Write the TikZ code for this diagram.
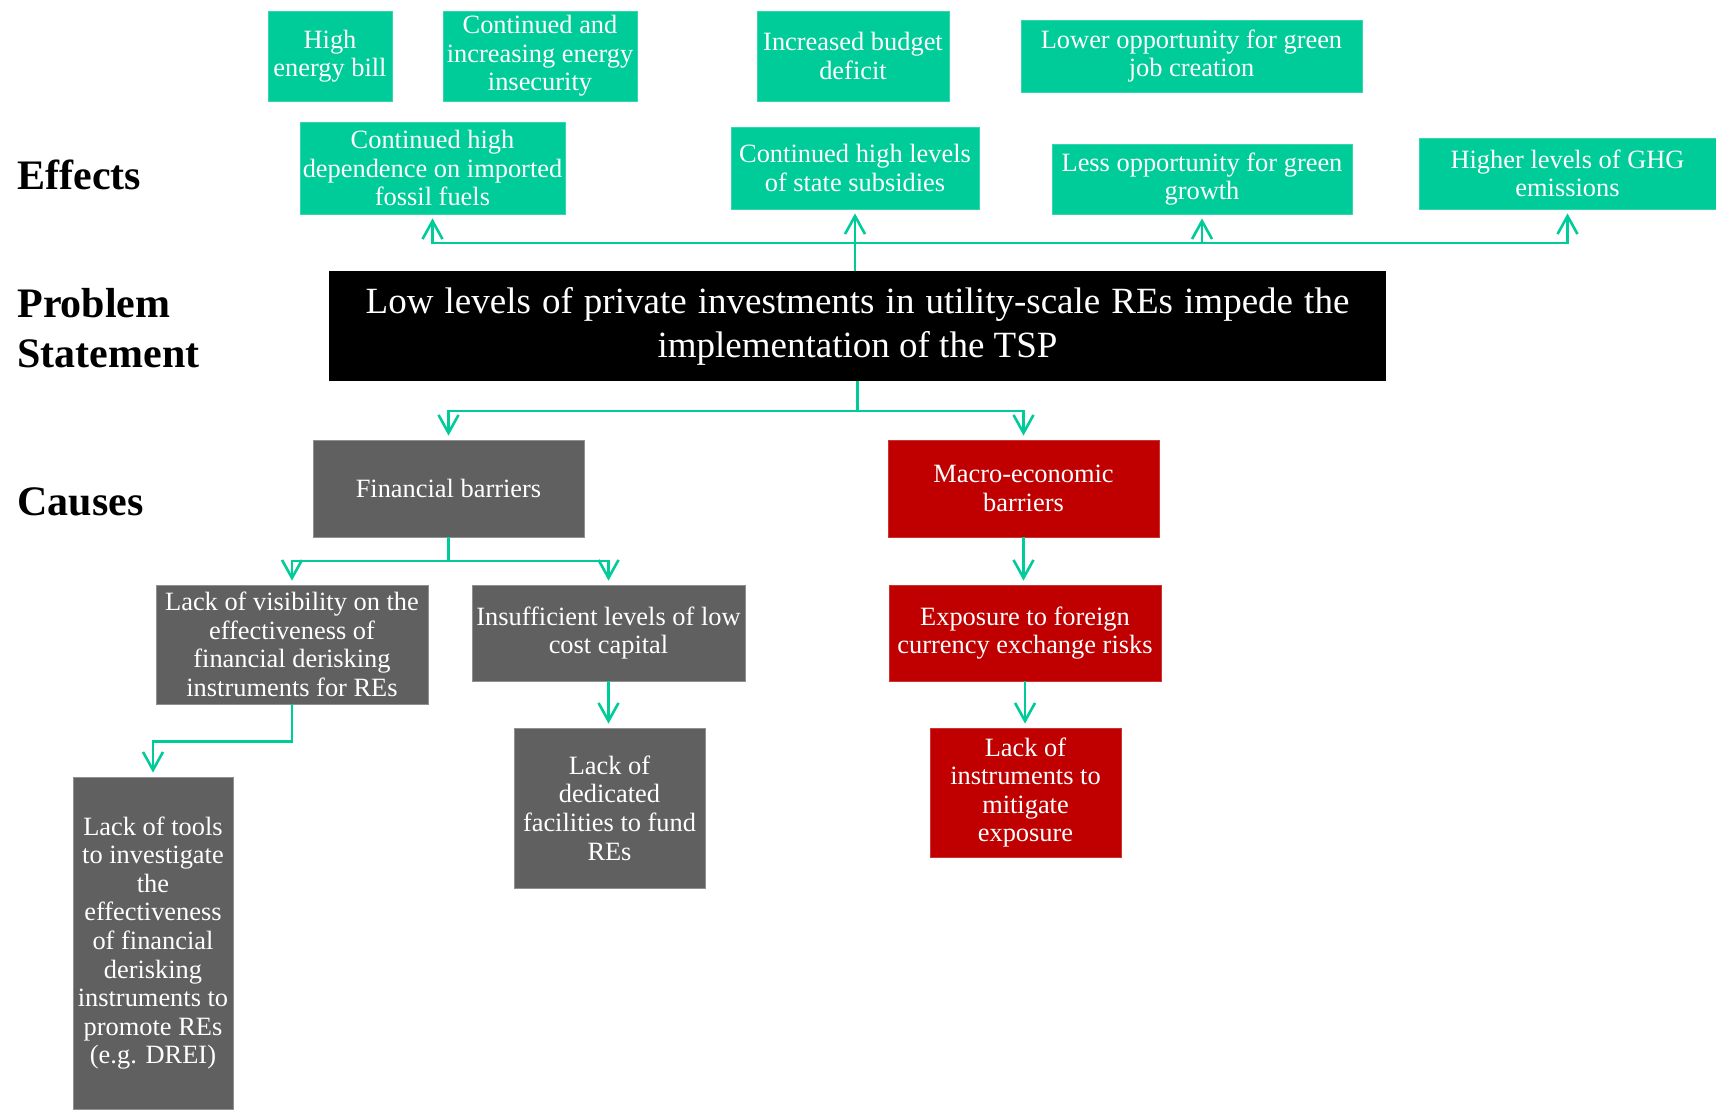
\documentclass[tikz,border=0pt]{standalone}
\usepackage{fontspec}
\setmainfont{Liberation Serif}
\usetikzlibrary{arrows.meta}
\definecolor{egreen}{RGB}{0,204,153}
\definecolor{egrey}{RGB}{96,96,96}
\definecolor{ered}{RGB}{192,0,0}
\tikzset{
  box/.style={rectangle, inner sep=1pt, align=center, text=white,
    font=\fontsize{13.2}{14.3}\selectfont},
  gbox/.style={box, fill=egreen, draw=egreen!80!white, line width=0.4pt},
  kbox/.style={box, fill=egrey, draw=egrey!70!white, line width=0.4pt},
  rbox/.style={box, fill=ered, draw=ered!80!white, line width=0.4pt},
  pbox/.style={rectangle, fill=black, text=white, align=center,
    font=\fontsize{18.5}{22}\selectfont},
  lab/.style={anchor=west, align=left, inner sep=0pt,
    font=\fontsize{21}{25}\selectfont\bfseries},
  link/.style={draw=egreen, line width=1.3pt},
  conn/.style={link, -{Straight Barb[length=9pt,width=10pt,line width=1.3pt]}, shorten >=2pt},
}
\begin{document}
\begin{tikzpicture}[x=0.5pt, y=-0.5pt]
\useasboundingbox (0,0) rectangle (1716,1109);
% labels
\node[lab] (leff) at (17,175) {Effects};
\node[lab] (lps) at (17,328) {Problem\\Statement};
\node[lab] (lcau) at (17,502) {Causes};
% effects
\node[gbox, minimum width=62pt, minimum height=45pt] (hb) at (330,56) {High\\energy bill};
\node[gbox, minimum width=97pt, minimum height=45pt] (ci) at (540,56) {Continued and\\increasing energy\\insecurity};
\node[gbox, minimum width=96pt, minimum height=45pt] (ib) at (853,56) {Increased budget\\deficit};
\node[gbox, minimum width=170.5pt, minimum height=36pt] (lo) at (1191.5,56) {Lower opportunity for green\\job creation};
\node[gbox, minimum width=132.5pt, minimum height=46pt] (cd) at (432.5,168) {Continued high\\dependence on imported\\fossil fuels};
\node[gbox, minimum width=124pt, minimum height=41pt] (cs) at (855,168) {Continued high levels\\of state subsidies};
\node[gbox, minimum width=150pt, minimum height=35pt] (lg) at (1202,179) {Less opportunity for green\\growth};
\node[gbox, minimum width=148.5pt, minimum height=35.5pt] (gh) at (1567.5,173.5) {Higher levels of GHG\\emissions};
% problem
\node[pbox, minimum width=528.5pt, minimum height=55pt] (ps) at (857.5,326) {\spaceskip=0.3em\relax Low levels of private investments in utility-scale REs impede the\\implementation of the TSP};
% causes
\node[kbox, minimum width=135.5pt, minimum height=48.5pt] (fb) at (448.5,488.5) {Financial barriers};
\node[rbox, minimum width=135.5pt, minimum height=48.5pt] (mb) at (1023.5,488.5) {Macro-economic\\barriers};
\node[kbox, minimum width=136pt, minimum height=59.5pt] (lv) at (292,644.5) {Lack of visibility on the\\effectiveness of\\financial derisking\\instruments for REs};
\node[kbox, minimum width=136.5pt, minimum height=48pt] (il) at (608.5,633) {Insufficient levels of low\\cost capital};
\node[kbox, minimum width=80pt, minimum height=166pt] (lt) at (153,943) {Lack of tools\\to investigate\\the\\effectiveness\\of financial\\derisking\\instruments to\\promote REs\\(e.g. DREI)};
\node[kbox, minimum width=95.5pt, minimum height=80pt] (ld) at (609.5,808) {Lack of\\dedicated\\facilities to fund\\REs};
\node[rbox, minimum width=136pt, minimum height=48pt] (ex) at (1025,633) {Exposure to foreign\\currency exchange risks};
\node[rbox, minimum width=95.5pt, minimum height=64.5pt] (li) at (1025.5,792.5) {Lack of\\instruments to\\mitigate\\exposure};
% connectors: effects
\coordinate (tb) at (855,243);
\draw[conn] (cs.south |- ps.north) -- (cs.south);
\draw[conn] (tb) -| (cd.south);
\draw[conn] (tb) -| (lg.south);
\draw[conn] (tb) -| (gh.south);
% connectors: causes
\coordinate (bb) at (857.5,411);
\draw[link] (ps.south) -- (bb);
\draw[conn] (bb) -| (fb.north);
\draw[conn] (bb) -| (mb.north);
\coordinate (fbus) at (448.5,561);
\draw[link] (fb.south) -- (fbus);
\draw[conn] (fbus) -| (lv.north);
\draw[conn] (fbus) -| (il.north);
\draw[conn] (lv.south) -- ++(0,37) -| (lt.north);
\draw[conn] (il.south) -- (il.south |- ld.north);
\draw[conn] (mb.south) -- (mb.south |- ex.north);
\draw[conn] (ex.south) -- (ex.south |- li.north);
\end{tikzpicture}
\end{document}
